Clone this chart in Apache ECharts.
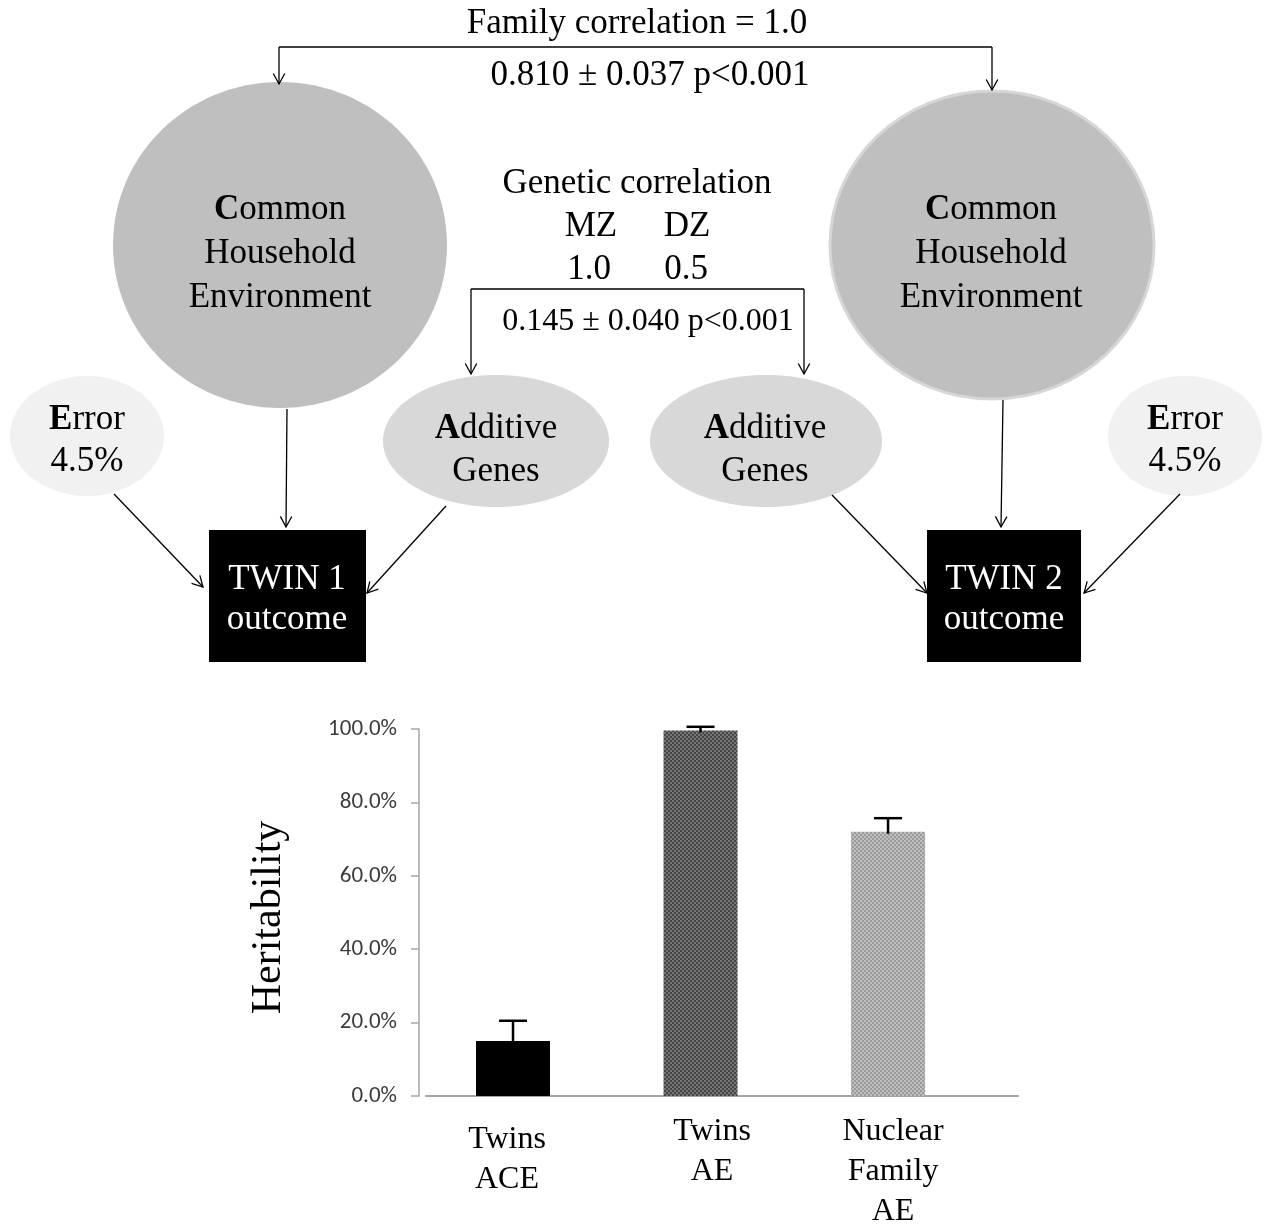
<!DOCTYPE html>
<html>
<head>
<meta charset="utf-8">
<script src="https://cdn.jsdelivr.net/npm/echarts@6/dist/echarts.min.js"></script>
<style>
  html, body { margin: 0; padding: 0; background: #ffffff; }
  #chart { width: 1269px; height: 1226px; }
</style>
</head>
<body>
<div id="chart"></div>
<script>
// ---- Heritability estimates (%), with the upper error of each estimate ----
const models = ['Twins\nACE', 'Twins\nAE', 'Nuclear\nFamily\nAE'];
const heritability = [15.0, 99.6, 72.0];
const heritabilityError = [5.5, 1.0, 3.7];
const yTicks = [0, 20, 40, 60, 80, 100];

// ---- Path diagram wording ----
const familyCorrelationTitle = 'Family correlation = 1.0';
const familyCorrelationEstimate = '0.810 \u00b1 0.037 p<0.001';
const geneticCorrelationTitle = 'Genetic correlation';
const zygosity = ['MZ', 'DZ'];
const geneticCorrelation = ['1.0', '0.5'];
const geneticCorrelationEstimate = '0.145 \u00b1 0.040 p<0.001';
const commonLines = ['{b|C}ommon', 'Household', 'Environment'];
const additiveLines = ['{b|A}dditive', 'Genes'];
const errorLines = ['{b|E}rror', '4.5%'];
const twinLabels = [['TWIN 1', 'outcome'], ['TWIN 2', 'outcome']];

const SERIF = '"Liberation Serif", "Times New Roman", Times, serif';
const SANS = 'Carlito, Calibri, Lato, "Liberation Sans", sans-serif';
const FS = 35;

// dotted fills for the AE bars
function dotFill(dark, light) {
  const c = document.createElement('canvas');
  c.width = 4; c.height = 4;
  const g = c.getContext('2d');
  g.fillStyle = dark; g.fillRect(0, 0, 4, 4);
  g.fillStyle = light; g.fillRect(0, 0, 2, 2); g.fillRect(2, 2, 2, 2);
  return { image: c, repeat: 'repeat' };
}
const barFills = ['#000000', dotFill('#444444', '#777777'), dotFill('#9a9a9a', '#bfbfbf')];

// ---- diagram helpers ----
const LINE = { stroke: '#000', lineWidth: 1.3 };

function arrow(x1, y1, x2, y2) {
  const a = Math.atan2(y2 - y1, x2 - x1), L = 12, s = 0.5;
  const h1 = [x2 - L * Math.cos(a - s), y2 - L * Math.sin(a - s)];
  const h2 = [x2 - L * Math.cos(a + s), y2 - L * Math.sin(a + s)];
  return [
    { type: 'line', shape: { x1, y1, x2, y2 }, style: LINE, z: 5 },
    { type: 'polyline', shape: { points: [h1, [x2, y2], h2] }, style: Object.assign({ fill: null }, LINE), z: 5 }
  ];
}

function label(x, y, text, opts) {
  return {
    type: 'text', x, y, z: 10,
    style: Object.assign({
      text, fontFamily: SERIF, fontSize: FS, fill: '#000',
      align: 'center', verticalAlign: 'middle',
      rich: { b: { fontFamily: SERIF, fontSize: FS, fontWeight: 'bold', fill: '#000' } }
    }, opts || {})
  };
}

function stacked(x, yFirst, step, lines, opts) {
  return lines.map((t, i) => label(x, yFirst + i * step, t, opts));
}

const diagram = [];
// latent factors
diagram.push({ type: 'ellipse', shape: { cx: 280, cy: 245, rx: 167, ry: 163 }, style: { fill: '#bfbfbf' }, z: 1 });
diagram.push({ type: 'ellipse', shape: { cx: 992, cy: 245, rx: 162, ry: 154 }, style: { fill: '#bfbfbf', stroke: '#d6d6d6', lineWidth: 3 }, z: 1 });
diagram.push({ type: 'ellipse', shape: { cx: 87, cy: 436, rx: 77, ry: 60 }, style: { fill: '#f1f1f1' }, z: 1 });
diagram.push({ type: 'ellipse', shape: { cx: 1185, cy: 436, rx: 77, ry: 60 }, style: { fill: '#f1f1f1' }, z: 1 });
diagram.push({ type: 'ellipse', shape: { cx: 496, cy: 441, rx: 113, ry: 66 }, style: { fill: '#d8d8d8' }, z: 1 });
diagram.push({ type: 'ellipse', shape: { cx: 766, cy: 441, rx: 116, ry: 66 }, style: { fill: '#d8d8d8' }, z: 1 });
// observed outcomes
diagram.push({ type: 'rect', shape: { x: 209, y: 530, width: 157, height: 132 }, style: { fill: '#000' }, z: 1 });
diagram.push({ type: 'rect', shape: { x: 927, y: 530, width: 154, height: 132 }, style: { fill: '#000' }, z: 1 });

// family correlation bracket
diagram.push({ type: 'line', shape: { x1: 279, y1: 47, x2: 992, y2: 47 }, style: LINE, z: 5 });
diagram.push(...arrow(279, 47, 279, 84));
diagram.push(...arrow(992, 47, 992, 90));
// genetic correlation bracket
diagram.push({ type: 'line', shape: { x1: 471, y1: 289, x2: 804, y2: 289 }, style: LINE, z: 5 });
diagram.push(...arrow(471, 289, 471, 374));
diagram.push(...arrow(804, 289, 804, 374));
// paths into twin 1
diagram.push(...arrow(287, 409, 286, 527));
diagram.push(...arrow(114, 494, 203, 587));
diagram.push(...arrow(446, 506, 367, 593));
// paths into twin 2
diagram.push(...arrow(1003, 400, 1001, 527));
diagram.push(...arrow(832, 495, 927, 593));
diagram.push(...arrow(1180, 494, 1084, 593));

// wording
diagram.push(label(637, 24, familyCorrelationTitle));
diagram.push(label(650, 76, familyCorrelationEstimate));
diagram.push(label(637, 184, geneticCorrelationTitle));
diagram.push(label(591, 227, zygosity[0]));
diagram.push(label(687, 227, zygosity[1]));
diagram.push(label(589, 270, geneticCorrelation[0]));
diagram.push(label(686, 270, geneticCorrelation[1]));
diagram.push(label(648, 322, geneticCorrelationEstimate, { fontSize: 32 }));
diagram.push(...stacked(280, 210, 44, commonLines));
diagram.push(...stacked(991, 210, 44, commonLines));
diagram.push(...stacked(87, 420, 42, errorLines));
diagram.push(...stacked(1185, 420, 42, errorLines));
diagram.push(...stacked(496, 429, 43, additiveLines));
diagram.push(...stacked(765, 429, 43, additiveLines));
diagram.push(...stacked(287, 580, 40, twinLabels[0], { fill: '#fff' }));
diagram.push(...stacked(1004, 580, 40, twinLabels[1], { fill: '#fff' }));

// ---- category label styling (per-label nudges) ----
const catRich = {};
const catStyle = [
  { lh: [56, 24], pad: [0, 12, 0, 0] },
  { lh: [40, 40], pad: [0, 0, 0, 23] },
  { lh: [40, 40, 40], pad: [0, 0, 0, 10] }
];
catStyle.forEach((cs, i) => {
  cs.lh.forEach((h, j) => {
    catRich['c' + i + '_' + j] = {
      fontFamily: SERIF, fontSize: 32, color: '#000', lineHeight: h, padding: cs.pad
    };
  });
});

const chart = echarts.init(document.getElementById('chart'), null, { renderer: 'canvas' });
chart.setOption({
  backgroundColor: '#ffffff',
  animation: false,
  grid: { left: 426, top: 729, width: 592, height: 367, containLabel: false, outerBoundsMode: 'none' },
  xAxis: {
    type: 'value',
    min: 0.536,
    max: 3.693,
    splitLine: { show: false },
    axisTick: { show: false },
    axisLine: { show: true, lineStyle: { color: '#a6a6a6', width: 2 } },
    axisLabel: {
      customValues: [1, 2, 3],
      margin: 16,
      formatter: function (v) {
        const i = Math.round(v) - 1;
        if (i < 0 || i >= models.length) return '';
        return models[i].split('\n').map((s, j) => '{c' + i + '_' + j + '|' + s + '}').join('\n');
      },
      rich: catRich
    }
  },
  yAxis: {
    type: 'value',
    min: 0,
    max: 100,
    interval: 20,
    offset: 7,
    splitLine: { show: false },
    axisLine: { show: true, lineStyle: { color: '#a6a6a6', width: 1.5 } },
    axisTick: { show: true, length: 8, lineStyle: { color: '#a6a6a6', width: 1.5 } },
    axisLabel: {
      margin: 22,
      fontFamily: SANS,
      fontSize: 23,
      color: '#3c3c3c',
      formatter: v => (yTicks.includes(v) ? v.toFixed(1) + '%' : '')
    },
    name: 'Heritability',
    nameLocation: 'middle',
    nameRotate: 90,
    nameGap: 129,
    nameTextStyle: { fontFamily: SERIF, fontSize: 42, color: '#000', padding: [0, 10, 0, 0] }
  },
  series: [
    {
      type: 'bar',
      barWidth: 74,
      data: heritability.map((v, i) => ({ value: [i + 1, v], itemStyle: { color: barFills[i] } })),
      z: 2
    },
    {
      type: 'custom',
      z: 3,
      data: heritability.map((v, i) => [i + 1, v, heritabilityError[i]]),
      encode: { x: 0, y: 1 },
      renderItem: function (params, api) {
        const x = api.value(0), v = api.value(1), e = api.value(2);
        const base = api.coord([x, v]);
        const top = api.coord([x, v + e]);
        const hw = 14;
        const st = { stroke: '#000', lineWidth: 2.5 };
        return {
          type: 'group',
          children: [
            { type: 'line', shape: { x1: base[0], y1: base[1] + 2, x2: top[0], y2: top[1] }, style: st },
            { type: 'line', shape: { x1: top[0] - hw, y1: top[1], x2: top[0] + hw, y2: top[1] }, style: st }
          ]
        };
      }
    }
  ],
  graphic: diagram
});
</script>
</body>
</html>
